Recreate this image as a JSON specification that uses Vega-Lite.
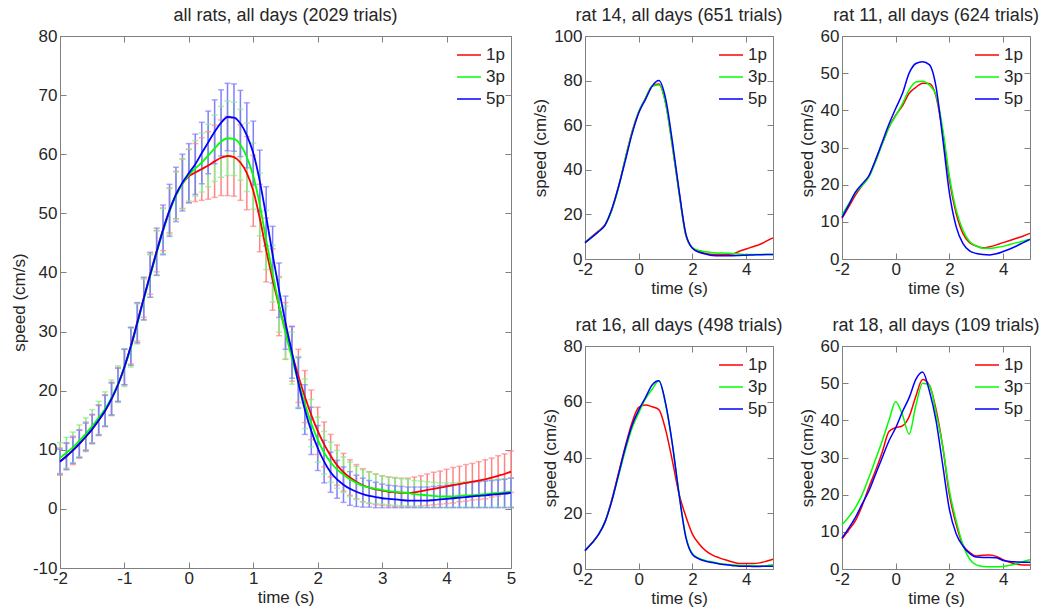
{
"$schema": "https://vega.github.io/schema/vega-lite/v6.json",
"padding": {"left": 9, "top": 6, "right": 0, "bottom": 0},
"background": "white",
"config": {
  "font": "Liberation Sans",
  "view": {"stroke": "#808080", "strokeWidth": 1},
  "axis": {"domain": false, "grid": false, "tickSize": -6, "tickColor": "#808080", "labelFontSize": 17, "labelColor": "#262626", "titleFontSize": 17, "titleFontWeight": "normal", "titleColor": "#262626", "labelPadding": 9, "labelFlush": false, "labelExpr": "replace(datum.label, '\u2212', '-')"},
  "axisX": {"labelPadding": 8.5, "titlePadding": 2.5},
  "axisY": {"titlePadding": 4},
  "title": {"fontSize": 18, "fontWeight": "normal", "color": "#262626", "baseline": "alphabetic", "offset": 2, "anchor": "middle"},
  "legend": {"orient": "none", "padding": 0, "symbolType": "stroke", "symbolSize": 576, "symbolStrokeWidth": 1.5, "labelFontSize": 17, "labelColor": "#262626", "labelOffset": 4, "rowPadding": 1}
},
"datasets": {
"all": [
{"s":"1p","t":-2,"v":8.0,"lo":5.7,"hi":10.3},{"s":"1p","t":-1.9,"v":8.9,"lo":6.6,"hi":11.2},{"s":"1p","t":-1.8,"v":9.9,"lo":7.5,"hi":12.3},{"s":"1p","t":-1.7,"v":11.0,"lo":8.6,"hi":13.4},{"s":"1p","t":-1.6,"v":12.2,"lo":9.7,"hi":14.7},{"s":"1p","t":-1.5,"v":13.5,"lo":11.0,"hi":16.0},{"s":"1p","t":-1.4,"v":15.0,"lo":12.4,"hi":17.6},{"s":"1p","t":-1.3,"v":16.6,"lo":13.9,"hi":19.3},{"s":"1p","t":-1.2,"v":18.6,"lo":15.8,"hi":21.4},{"s":"1p","t":-1.1,"v":21.0,"lo":18.1,"hi":23.9},{"s":"1p","t":-1.0,"v":24.0,"lo":21.0,"hi":27.0},
{"s":"1p","t":-0.9,"v":27.6,"lo":24.5,"hi":30.7},{"s":"1p","t":-0.8,"v":31.6,"lo":28.4,"hi":34.8},{"s":"1p","t":-0.7,"v":35.7,"lo":32.4,"hi":39.0},{"s":"1p","t":-0.6,"v":39.7,"lo":36.3,"hi":43.1},{"s":"1p","t":-0.5,"v":43.6,"lo":40.1,"hi":47.1},{"s":"1p","t":-0.4,"v":47.3,"lo":43.7,"hi":50.9},{"s":"1p","t":-0.3,"v":50.5,"lo":46.7,"hi":54.3},{"s":"1p","t":-0.2,"v":53.1,"lo":49.1,"hi":57.1},{"s":"1p","t":-0.1,"v":55.0,"lo":50.8,"hi":59.2},{"s":"1p","t":0,"v":56.3,"lo":51.8,"hi":60.8},
{"s":"1p","t":0.1,"v":56.9,"lo":52.0,"hi":61.8},{"s":"1p","t":0.2,"v":57.5,"lo":52.2,"hi":62.8},{"s":"1p","t":0.3,"v":58.1,"lo":52.4,"hi":63.8},{"s":"1p","t":0.4,"v":58.8,"lo":52.7,"hi":64.9},{"s":"1p","t":0.5,"v":59.4,"lo":53.0,"hi":65.8},{"s":"1p","t":0.6,"v":59.7,"lo":53.0,"hi":66.4},{"s":"1p","t":0.7,"v":59.5,"lo":52.9,"hi":66.1},{"s":"1p","t":0.8,"v":58.6,"lo":52.2,"hi":65.0},{"s":"1p","t":0.9,"v":56.8,"lo":50.6,"hi":63.0},{"s":"1p","t":1.0,"v":53.8,"lo":47.8,"hi":59.8},
{"s":"1p","t":1.1,"v":49.2,"lo":43.5,"hi":54.9},{"s":"1p","t":1.2,"v":43.8,"lo":38.4,"hi":49.2},{"s":"1p","t":1.3,"v":38.8,"lo":33.6,"hi":44.0},{"s":"1p","t":1.4,"v":34.3,"lo":29.3,"hi":39.3},{"s":"1p","t":1.5,"v":30.1,"lo":25.3,"hi":34.9},{"s":"1p","t":1.6,"v":26.2,"lo":21.6,"hi":30.8},{"s":"1p","t":1.7,"v":22.5,"lo":18.0,"hi":27.0},{"s":"1p","t":1.8,"v":19.0,"lo":14.6,"hi":23.4},{"s":"1p","t":1.9,"v":15.9,"lo":11.7,"hi":20.1},{"s":"1p","t":2.0,"v":13.2,"lo":9.2,"hi":17.2},
{"s":"1p","t":2.1,"v":10.9,"lo":7.1,"hi":14.7},{"s":"1p","t":2.2,"v":9.0,"lo":5.4,"hi":12.6},{"s":"1p","t":2.3,"v":7.4,"lo":4.0,"hi":10.8},{"s":"1p","t":2.4,"v":6.2,"lo":3.0,"hi":9.4},{"s":"1p","t":2.5,"v":5.3,"lo":2.3,"hi":8.3},{"s":"1p","t":2.6,"v":4.6,"lo":1.7,"hi":7.5},{"s":"1p","t":2.7,"v":4.0,"lo":1.2,"hi":6.8},{"s":"1p","t":2.8,"v":3.6,"lo":0.9,"hi":6.3},{"s":"1p","t":2.9,"v":3.3,"lo":0.7,"hi":5.9},{"s":"1p","t":3.0,"v":3.1,"lo":0.6,"hi":5.6},
{"s":"1p","t":3.1,"v":2.9,"lo":0.5,"hi":5.4},{"s":"1p","t":3.2,"v":2.8,"lo":0.4,"hi":5.3},{"s":"1p","t":3.3,"v":2.7,"lo":0.4,"hi":5.2},{"s":"1p","t":3.4,"v":2.7,"lo":0.4,"hi":5.2},{"s":"1p","t":3.5,"v":2.8,"lo":0.4,"hi":5.4},{"s":"1p","t":3.6,"v":3.0,"lo":0.5,"hi":5.6},{"s":"1p","t":3.7,"v":3.2,"lo":0.6,"hi":5.9},{"s":"1p","t":3.8,"v":3.4,"lo":0.7,"hi":6.2},{"s":"1p","t":3.9,"v":3.6,"lo":0.8,"hi":6.4},{"s":"1p","t":4.0,"v":3.8,"lo":0.9,"hi":6.7},
{"s":"1p","t":4.1,"v":4.0,"lo":1.0,"hi":7.0},{"s":"1p","t":4.2,"v":4.2,"lo":1.2,"hi":7.2},{"s":"1p","t":4.3,"v":4.4,"lo":1.3,"hi":7.5},{"s":"1p","t":4.4,"v":4.6,"lo":1.5,"hi":7.7},{"s":"1p","t":4.5,"v":4.8,"lo":1.6,"hi":8.0},{"s":"1p","t":4.6,"v":5.0,"lo":1.7,"hi":8.3},{"s":"1p","t":4.7,"v":5.3,"lo":2.0,"hi":8.6},{"s":"1p","t":4.8,"v":5.6,"lo":2.2,"hi":9.0},{"s":"1p","t":4.9,"v":5.9,"lo":2.5,"hi":9.3},{"s":"1p","t":5.0,"v":6.3,"lo":2.8,"hi":9.8},
{"s":"3p","t":-2,"v":8.6,"lo":6.0,"hi":11.2},{"s":"3p","t":-1.9,"v":9.5,"lo":6.9,"hi":12.1},{"s":"3p","t":-1.8,"v":10.4,"lo":7.8,"hi":13.0},{"s":"3p","t":-1.7,"v":11.5,"lo":8.8,"hi":14.2},{"s":"3p","t":-1.6,"v":12.7,"lo":10.0,"hi":15.4},{"s":"3p","t":-1.5,"v":14.0,"lo":11.2,"hi":16.8},{"s":"3p","t":-1.4,"v":15.4,"lo":12.6,"hi":18.2},{"s":"3p","t":-1.3,"v":16.9,"lo":14.0,"hi":19.8},{"s":"3p","t":-1.2,"v":18.8,"lo":15.8,"hi":21.8},{"s":"3p","t":-1.1,"v":21.1,"lo":18.0,"hi":24.2},{"s":"3p","t":-1.0,"v":23.9,"lo":20.7,"hi":27.1},
{"s":"3p","t":-0.9,"v":27.3,"lo":24.0,"hi":30.6},{"s":"3p","t":-0.8,"v":31.3,"lo":27.9,"hi":34.7},{"s":"3p","t":-0.7,"v":35.4,"lo":31.9,"hi":38.9},{"s":"3p","t":-0.6,"v":39.4,"lo":35.8,"hi":43.0},{"s":"3p","t":-0.5,"v":43.3,"lo":39.6,"hi":47.0},{"s":"3p","t":-0.4,"v":47.0,"lo":43.2,"hi":50.8},{"s":"3p","t":-0.3,"v":50.3,"lo":46.4,"hi":54.2},{"s":"3p","t":-0.2,"v":53.0,"lo":49.0,"hi":57.0},{"s":"3p","t":-0.1,"v":55.0,"lo":50.8,"hi":59.2},{"s":"3p","t":0,"v":56.5,"lo":52.1,"hi":60.9},
{"s":"3p","t":0.1,"v":57.6,"lo":52.9,"hi":62.3},{"s":"3p","t":0.2,"v":58.6,"lo":53.6,"hi":63.6},{"s":"3p","t":0.3,"v":59.8,"lo":54.5,"hi":65.1},{"s":"3p","t":0.4,"v":61.0,"lo":55.4,"hi":66.6},{"s":"3p","t":0.5,"v":62.1,"lo":56.1,"hi":68.1},{"s":"3p","t":0.6,"v":62.7,"lo":56.4,"hi":69.0},{"s":"3p","t":0.7,"v":62.6,"lo":56.4,"hi":68.8},{"s":"3p","t":0.8,"v":61.6,"lo":55.6,"hi":67.6},{"s":"3p","t":0.9,"v":59.5,"lo":53.7,"hi":65.3},{"s":"3p","t":1.0,"v":56.3,"lo":50.7,"hi":61.9},
{"s":"3p","t":1.1,"v":51.5,"lo":46.2,"hi":56.8},{"s":"3p","t":1.2,"v":45.5,"lo":40.5,"hi":50.5},{"s":"3p","t":1.3,"v":39.8,"lo":35.0,"hi":44.6},{"s":"3p","t":1.4,"v":34.5,"lo":29.9,"hi":39.1},{"s":"3p","t":1.5,"v":29.8,"lo":25.3,"hi":34.3},{"s":"3p","t":1.6,"v":25.5,"lo":21.1,"hi":29.9},{"s":"3p","t":1.7,"v":21.5,"lo":17.2,"hi":25.8},{"s":"3p","t":1.8,"v":17.8,"lo":13.6,"hi":22.0},{"s":"3p","t":1.9,"v":14.5,"lo":10.5,"hi":18.5},{"s":"3p","t":2.0,"v":11.7,"lo":7.9,"hi":15.5},
{"s":"3p","t":2.1,"v":9.5,"lo":5.9,"hi":13.1},{"s":"3p","t":2.2,"v":7.9,"lo":4.5,"hi":11.3},{"s":"3p","t":2.3,"v":6.7,"lo":3.5,"hi":9.9},{"s":"3p","t":2.4,"v":5.8,"lo":2.8,"hi":8.8},{"s":"3p","t":2.5,"v":5.0,"lo":2.1,"hi":7.9},{"s":"3p","t":2.6,"v":4.4,"lo":1.6,"hi":7.2},{"s":"3p","t":2.7,"v":3.9,"lo":1.2,"hi":6.6},{"s":"3p","t":2.8,"v":3.6,"lo":1.0,"hi":6.2},{"s":"3p","t":2.9,"v":3.4,"lo":0.9,"hi":5.9},{"s":"3p","t":3.0,"v":3.2,"lo":0.8,"hi":5.6},
{"s":"3p","t":3.1,"v":3.0,"lo":0.7,"hi":5.4},{"s":"3p","t":3.2,"v":2.9,"lo":0.6,"hi":5.2},{"s":"3p","t":3.3,"v":2.8,"lo":0.5,"hi":5.1},{"s":"3p","t":3.4,"v":2.7,"lo":0.5,"hi":5.0},{"s":"3p","t":3.5,"v":2.5,"lo":0.4,"hi":4.8},{"s":"3p","t":3.6,"v":2.4,"lo":0.4,"hi":4.7},{"s":"3p","t":3.7,"v":2.3,"lo":0.3,"hi":4.6},{"s":"3p","t":3.8,"v":2.2,"lo":0.3,"hi":4.5},{"s":"3p","t":3.9,"v":2.1,"lo":0.3,"hi":4.4},{"s":"3p","t":4.0,"v":2.1,"lo":0.3,"hi":4.4},
{"s":"3p","t":4.1,"v":2.1,"lo":0.3,"hi":4.4},{"s":"3p","t":4.2,"v":2.2,"lo":0.3,"hi":4.5},{"s":"3p","t":4.3,"v":2.3,"lo":0.3,"hi":4.6},{"s":"3p","t":4.4,"v":2.3,"lo":0.3,"hi":4.6},{"s":"3p","t":4.5,"v":2.4,"lo":0.3,"hi":4.7},{"s":"3p","t":4.6,"v":2.5,"lo":0.3,"hi":4.8},{"s":"3p","t":4.7,"v":2.6,"lo":0.3,"hi":4.9},{"s":"3p","t":4.8,"v":2.7,"lo":0.3,"hi":5.0},{"s":"3p","t":4.9,"v":2.8,"lo":0.3,"hi":5.1},{"s":"3p","t":5.0,"v":2.9,"lo":0.3,"hi":5.2},
{"s":"5p","t":-2,"v":8.0,"lo":5.9,"hi":10.1},{"s":"5p","t":-1.9,"v":8.9,"lo":6.7,"hi":11.1},{"s":"5p","t":-1.8,"v":9.9,"lo":7.7,"hi":12.1},{"s":"5p","t":-1.7,"v":11.0,"lo":8.7,"hi":13.3},{"s":"5p","t":-1.6,"v":12.2,"lo":9.9,"hi":14.5},{"s":"5p","t":-1.5,"v":13.5,"lo":11.1,"hi":15.9},{"s":"5p","t":-1.4,"v":15.0,"lo":12.5,"hi":17.5},{"s":"5p","t":-1.3,"v":16.6,"lo":14.0,"hi":19.2},{"s":"5p","t":-1.2,"v":18.6,"lo":15.9,"hi":21.3},{"s":"5p","t":-1.1,"v":21.0,"lo":18.2,"hi":23.8},{"s":"5p","t":-1.0,"v":24.0,"lo":21.0,"hi":27.0},
{"s":"5p","t":-0.9,"v":27.5,"lo":24.3,"hi":30.7},{"s":"5p","t":-0.8,"v":31.5,"lo":28.1,"hi":34.9},{"s":"5p","t":-0.7,"v":35.6,"lo":32.0,"hi":39.2},{"s":"5p","t":-0.6,"v":39.6,"lo":35.8,"hi":43.4},{"s":"5p","t":-0.5,"v":43.5,"lo":39.5,"hi":47.5},{"s":"5p","t":-0.4,"v":47.2,"lo":43.0,"hi":51.4},{"s":"5p","t":-0.3,"v":50.5,"lo":46.1,"hi":54.9},{"s":"5p","t":-0.2,"v":53.2,"lo":48.6,"hi":57.8},{"s":"5p","t":-0.1,"v":55.2,"lo":50.4,"hi":60.0},{"s":"5p","t":0,"v":56.8,"lo":51.8,"hi":61.8},
{"s":"5p","t":0.1,"v":58.3,"lo":53.2,"hi":63.4},{"s":"5p","t":0.2,"v":60.2,"lo":55.0,"hi":65.4},{"s":"5p","t":0.3,"v":62.0,"lo":56.7,"hi":67.3},{"s":"5p","t":0.4,"v":63.8,"lo":58.4,"hi":69.2},{"s":"5p","t":0.5,"v":65.3,"lo":59.7,"hi":70.9},{"s":"5p","t":0.6,"v":66.3,"lo":60.6,"hi":72.0},{"s":"5p","t":0.7,"v":66.2,"lo":60.5,"hi":71.9},{"s":"5p","t":0.8,"v":65.2,"lo":59.6,"hi":70.8},{"s":"5p","t":0.9,"v":63.2,"lo":57.7,"hi":68.7},{"s":"5p","t":1.0,"v":60.2,"lo":54.8,"hi":65.6},
{"s":"5p","t":1.1,"v":55.5,"lo":50.3,"hi":60.7},{"s":"5p","t":1.2,"v":49.5,"lo":44.5,"hi":54.5},{"s":"5p","t":1.3,"v":43.0,"lo":38.2,"hi":47.8},{"s":"5p","t":1.4,"v":37.0,"lo":32.4,"hi":41.6},{"s":"5p","t":1.5,"v":31.5,"lo":27.0,"hi":36.0},{"s":"5p","t":1.6,"v":26.5,"lo":22.1,"hi":30.9},{"s":"5p","t":1.7,"v":21.3,"lo":17.0,"hi":25.6},{"s":"5p","t":1.8,"v":16.8,"lo":12.6,"hi":21.0},{"s":"5p","t":1.9,"v":13.2,"lo":9.2,"hi":17.2},{"s":"5p","t":2.0,"v":10.3,"lo":6.5,"hi":14.1},
{"s":"5p","t":2.1,"v":8.0,"lo":4.4,"hi":11.6},{"s":"5p","t":2.2,"v":6.2,"lo":2.8,"hi":9.6},{"s":"5p","t":2.3,"v":5.0,"lo":1.8,"hi":8.2},{"s":"5p","t":2.4,"v":4.1,"lo":1.1,"hi":7.1},{"s":"5p","t":2.5,"v":3.4,"lo":0.6,"hi":6.3},{"s":"5p","t":2.6,"v":2.9,"lo":0.4,"hi":5.7},{"s":"5p","t":2.7,"v":2.5,"lo":0.3,"hi":5.2},{"s":"5p","t":2.8,"v":2.2,"lo":0.3,"hi":4.8},{"s":"5p","t":2.9,"v":2.0,"lo":0.2,"hi":4.5},{"s":"5p","t":3.0,"v":1.8,"lo":0.2,"hi":4.2},
{"s":"5p","t":3.1,"v":1.7,"lo":0.2,"hi":4.0},{"s":"5p","t":3.2,"v":1.6,"lo":0.2,"hi":3.9},{"s":"5p","t":3.3,"v":1.5,"lo":0.2,"hi":3.8},{"s":"5p","t":3.4,"v":1.4,"lo":0.2,"hi":3.7},{"s":"5p","t":3.5,"v":1.4,"lo":0.2,"hi":3.7},{"s":"5p","t":3.6,"v":1.4,"lo":0.2,"hi":3.7},{"s":"5p","t":3.7,"v":1.4,"lo":0.2,"hi":3.7},{"s":"5p","t":3.8,"v":1.5,"lo":0.2,"hi":3.8},{"s":"5p","t":3.9,"v":1.6,"lo":0.2,"hi":3.9},{"s":"5p","t":4.0,"v":1.7,"lo":0.2,"hi":4.0},
{"s":"5p","t":4.1,"v":1.8,"lo":0.2,"hi":4.1},{"s":"5p","t":4.2,"v":1.9,"lo":0.2,"hi":4.2},{"s":"5p","t":4.3,"v":2.0,"lo":0.2,"hi":4.4},{"s":"5p","t":4.4,"v":2.1,"lo":0.2,"hi":4.5},{"s":"5p","t":4.5,"v":2.2,"lo":0.2,"hi":4.6},{"s":"5p","t":4.6,"v":2.3,"lo":0.2,"hi":4.7},{"s":"5p","t":4.7,"v":2.4,"lo":0.2,"hi":4.8},{"s":"5p","t":4.8,"v":2.5,"lo":0.2,"hi":4.9},{"s":"5p","t":4.9,"v":2.6,"lo":0.2,"hi":5.0},{"s":"5p","t":5.0,"v":2.7,"lo":0.2,"hi":5.2}
],
"rats": [
{"p":"r14","t":-2,"1p":7.5,"3p":7.3,"5p":7.2},{"p":"r14","t":-1.75,"1p":10,"3p":9.8,"5p":9.7},{"p":"r14","t":-1.5,"1p":12.5,"3p":12.2,"5p":12.2},{"p":"r14","t":-1.25,"1p":15.5,"3p":15.3,"5p":15.2},{"p":"r14","t":-1,"1p":22,"3p":22,"5p":22.5},{"p":"r14","t":-0.75,"1p":32.5,"3p":32,"5p":32.5},{"p":"r14","t":-0.5,"1p":45,"3p":45,"5p":44},{"p":"r14","t":-0.25,"1p":57,"3p":56.5,"5p":56},{"p":"r14","t":0,"1p":66,"3p":66,"5p":65.5},{"p":"r14","t":0.25,"1p":72,"3p":72,"5p":71.5},{"p":"r14","t":0.5,"1p":77.5,"3p":77.5,"5p":77.5},{"p":"r14","t":0.75,"1p":78.5,"3p":78,"5p":80},{"p":"r14","t":1,"1p":70,"3p":70,"5p":72},{"p":"r14","t":1.25,"1p":51,"3p":51,"5p":53},{"p":"r14","t":1.5,"1p":30,"3p":30,"5p":31},{"p":"r14","t":1.75,"1p":11,"3p":11,"5p":11.5},{"p":"r14","t":2,"1p":5,"3p":5,"5p":4.8},{"p":"r14","t":2.25,"1p":3.5,"3p":3.8,"5p":3},{"p":"r14","t":2.5,"1p":2.5,"3p":3.2,"5p":2.2},{"p":"r14","t":2.75,"1p":2,"3p":2.8,"5p":1.6},{"p":"r14","t":3,"1p":2,"3p":2.7,"5p":1.5},{"p":"r14","t":3.25,"1p":2,"3p":2.6,"5p":1.5},{"p":"r14","t":3.5,"1p":2.2,"3p":2.5,"5p":1.5},{"p":"r14","t":3.75,"1p":3.5,"3p":2.2,"5p":1.6},{"p":"r14","t":4,"1p":4.5,"3p":2,"5p":1.7},{"p":"r14","t":4.25,"1p":5.5,"3p":2,"5p":1.8},{"p":"r14","t":4.5,"1p":6.5,"3p":2,"5p":1.9},{"p":"r14","t":4.75,"1p":8,"3p":2,"5p":2},{"p":"r14","t":5,"1p":9.5,"3p":2,"5p":2},
{"p":"r11","t":-2,"1p":10.9,"3p":11.8,"5p":11.2},{"p":"r11","t":-1.75,"1p":14,"3p":14.8,"5p":14.5},{"p":"r11","t":-1.5,"1p":17.2,"3p":17.8,"5p":18},{"p":"r11","t":-1.25,"1p":19.8,"3p":19.8,"5p":20.2},{"p":"r11","t":-1,"1p":22.2,"3p":22,"5p":22.4},{"p":"r11","t":-0.75,"1p":26.5,"3p":26.2,"5p":26.7},{"p":"r11","t":-0.5,"1p":31.1,"3p":31,"5p":31.5},{"p":"r11","t":-0.25,"1p":35.5,"3p":35.5,"5p":36.3},{"p":"r11","t":0,"1p":38.7,"3p":38.5,"5p":40.5},{"p":"r11","t":0.25,"1p":41.2,"3p":41.8,"5p":44.5},{"p":"r11","t":0.5,"1p":44.6,"3p":45.5,"5p":50},{"p":"r11","t":0.75,"1p":46.2,"3p":47.6,"5p":52.6},{"p":"r11","t":1,"1p":47.3,"3p":47.8,"5p":53.1},{"p":"r11","t":1.25,"1p":47.2,"3p":46.8,"5p":52.3},{"p":"r11","t":1.5,"1p":43.8,"3p":44.1,"5p":46.4},{"p":"r11","t":1.75,"1p":34,"3p":35,"5p":32.5},{"p":"r11","t":2,"1p":21.3,"3p":22.2,"5p":17.7},{"p":"r11","t":2.25,"1p":12.3,"3p":13.2,"5p":8.7},{"p":"r11","t":2.5,"1p":6.9,"3p":7.8,"5p":4.2},{"p":"r11","t":2.75,"1p":4.4,"3p":4.7,"5p":2.2},{"p":"r11","t":3,"1p":3.5,"3p":3.5,"5p":1.5},{"p":"r11","t":3.25,"1p":3,"3p":2.9,"5p":1.2},{"p":"r11","t":3.5,"1p":3.3,"3p":2.9,"5p":1.1},{"p":"r11","t":3.75,"1p":3.8,"3p":3.1,"5p":1.4},{"p":"r11","t":4,"1p":4.4,"3p":3.4,"5p":2},{"p":"r11","t":4.25,"1p":5,"3p":3.9,"5p":2.7},{"p":"r11","t":4.5,"1p":5.6,"3p":4.4,"5p":3.5},{"p":"r11","t":4.75,"1p":6.2,"3p":4.8,"5p":4.4},{"p":"r11","t":5,"1p":6.9,"3p":5.3,"5p":5.3},
{"p":"r16","t":-2,"1p":6.6,"3p":6.6,"5p":6.6},{"p":"r16","t":-1.75,"1p":9.2,"3p":9.2,"5p":9.2},{"p":"r16","t":-1.5,"1p":12.3,"3p":12.3,"5p":12.3},{"p":"r16","t":-1.25,"1p":17,"3p":17,"5p":17},{"p":"r16","t":-1,"1p":25,"3p":24.5,"5p":24.5},{"p":"r16","t":-0.75,"1p":34.5,"3p":33.5,"5p":34},{"p":"r16","t":-0.5,"1p":44,"3p":42.5,"5p":43.5},{"p":"r16","t":-0.25,"1p":52.5,"3p":50.5,"5p":51.5},{"p":"r16","t":0,"1p":58,"3p":56,"5p":57},{"p":"r16","t":0.25,"1p":58.8,"3p":61,"5p":61.5},{"p":"r16","t":0.5,"1p":58.2,"3p":64.5,"5p":66},{"p":"r16","t":0.75,"1p":57.2,"3p":67.5,"5p":67.5},{"p":"r16","t":1,"1p":50,"3p":59,"5p":59.5},{"p":"r16","t":1.25,"1p":39,"3p":45,"5p":45},{"p":"r16","t":1.5,"1p":27,"3p":27,"5p":27},{"p":"r16","t":1.75,"1p":19,"3p":12,"5p":11.5},{"p":"r16","t":2,"1p":12.5,"3p":5.5,"5p":5.2},{"p":"r16","t":2.25,"1p":9,"3p":3.8,"5p":3.6},{"p":"r16","t":2.5,"1p":6.5,"3p":3,"5p":2.8},{"p":"r16","t":2.75,"1p":5,"3p":2.5,"5p":2.3},{"p":"r16","t":3,"1p":4,"3p":2,"5p":1.8},{"p":"r16","t":3.25,"1p":3.2,"3p":1.7,"5p":1.5},{"p":"r16","t":3.5,"1p":2.5,"3p":1.5,"5p":1.2},{"p":"r16","t":3.75,"1p":2,"3p":1.3,"5p":1},{"p":"r16","t":4,"1p":2,"3p":1.2,"5p":1},{"p":"r16","t":4.25,"1p":2,"3p":1.2,"5p":0.9},{"p":"r16","t":4.5,"1p":2.2,"3p":1.1,"5p":0.9},{"p":"r16","t":4.75,"1p":2.8,"3p":1.2,"5p":1},{"p":"r16","t":5,"1p":3.5,"3p":1.5,"5p":1},
{"p":"r18","t":-2,"1p":8.1,"3p":11.9,"5p":8.3},{"p":"r18","t":-1.75,"1p":10.5,"3p":14,"5p":11},{"p":"r18","t":-1.5,"1p":13,"3p":16.5,"5p":13.9},{"p":"r18","t":-1.25,"1p":17,"3p":20,"5p":17.5},{"p":"r18","t":-1,"1p":22,"3p":24.6,"5p":21},{"p":"r18","t":-0.75,"1p":26.5,"3p":29.5,"5p":25.5},{"p":"r18","t":-0.5,"1p":31.5,"3p":34.5,"5p":30},{"p":"r18","t":-0.25,"1p":37,"3p":40,"5p":34.5},{"p":"r18","t":0,"1p":38,"3p":45,"5p":38},{"p":"r18","t":0.25,"1p":38.5,"3p":41.5,"5p":42.3},{"p":"r18","t":0.5,"1p":41,"3p":36.3,"5p":46.1},{"p":"r18","t":0.75,"1p":46.5,"3p":44,"5p":51},{"p":"r18","t":1,"1p":51,"3p":50,"5p":53},{"p":"r18","t":1.25,"1p":49.5,"3p":49.5,"5p":48},{"p":"r18","t":1.5,"1p":43,"3p":42,"5p":40},{"p":"r18","t":1.75,"1p":33,"3p":33,"5p":28},{"p":"r18","t":2,"1p":20,"3p":21,"5p":16},{"p":"r18","t":2.25,"1p":12,"3p":13,"5p":9.5},{"p":"r18","t":2.5,"1p":6.5,"3p":6.5,"5p":6.2},{"p":"r18","t":2.75,"1p":4.5,"3p":2.7,"5p":4.2},{"p":"r18","t":3,"1p":3.5,"3p":1.1,"5p":3.2},{"p":"r18","t":3.25,"1p":3.7,"3p":0.7,"5p":3.1},{"p":"r18","t":3.5,"1p":3.8,"3p":0.6,"5p":3.1},{"p":"r18","t":3.75,"1p":3.4,"3p":0.6,"5p":3},{"p":"r18","t":4,"1p":2.5,"3p":0.7,"5p":2.3},{"p":"r18","t":4.25,"1p":1.8,"3p":1,"5p":2},{"p":"r18","t":4.5,"1p":1.3,"3p":1.4,"5p":1.9},{"p":"r18","t":4.75,"1p":1.1,"3p":2,"5p":1.8},{"p":"r18","t":5,"1p":1.1,"3p":2.5,"5p":1.8}
]
},
"spacing": 14,
"bounds": "full",
"resolve": {"scale": {"color": "independent"}, "legend": {"color": "independent"}},
"hconcat": [
{
  "width": 451, "height": 532,
  "title": "all rats, all days (2029 trials)",
  "data": {"name": "all"},
  "layer": [
    {"mark": {"type": "rule", "strokeWidth": 1.5},
     "encoding": {
       "x": {"field": "t", "type": "quantitative", "scale": {"domain": [-2, 5], "nice": false, "zero": false}, "axis": {"orient": "bottom", "values": [-2,-1,0,1,2,3,4,5], "title": "time (s)"}},
       "y": {"field": "lo", "type": "quantitative", "scale": {"domain": [-10, 80], "nice": false, "zero": false}, "axis": {"orient": "left", "values": [-10,0,10,20,30,40,50,60,70,80], "title": "speed (cm/s)"}},
       "y2": {"field": "hi"},
       "color": {"field": "s", "type": "nominal", "scale": {"domain": ["1p","3p","5p"], "range": ["#ff8484","#84ee84","#8080ff"]}, "legend": null}
     }},
    {"mark": {"type": "tick", "orient": "horizontal", "size": 6, "thickness": 1.5},
     "encoding": {
       "x": {"field": "t", "type": "quantitative", "axis": null},
       "y": {"field": "lo", "type": "quantitative", "axis": null},
       "color": {"field": "s", "type": "nominal", "scale": {"domain": ["1p","3p","5p"], "range": ["#ff8484","#84ee84","#8080ff"]}, "legend": null}
     }},
    {"mark": {"type": "tick", "orient": "horizontal", "size": 6, "thickness": 1.5},
     "encoding": {
       "x": {"field": "t", "type": "quantitative", "axis": null},
       "y": {"field": "hi", "type": "quantitative", "axis": null},
       "color": {"field": "s", "type": "nominal", "scale": {"domain": ["1p","3p","5p"], "range": ["#ff8484","#84ee84","#8080ff"]}, "legend": null}
     }},
    {"mark": {"type": "line", "strokeWidth": 1.8, "interpolate": "monotone"},
     "encoding": {
       "x": {"field": "t", "type": "quantitative", "axis": {"orient": "top", "labels": false, "title": null, "values": [-2,-1,0,1,2,3,4,5]}},
       "y": {"field": "v", "type": "quantitative", "axis": {"orient": "right", "labels": false, "title": null, "values": [-10,0,10,20,30,40,50,60,70,80]}},
       "color": {"field": "s", "type": "nominal", "scale": {"domain": ["1p","3p","5p"], "range": ["#ff0000","#00ff00","#0000ff"]}, "legend": {"title": null, "legendX": 396, "legendY": 6}}
     }}
  ],
  "resolve": {"axis": {"x": "independent", "y": "independent"}, "scale": {"color": "independent"}}
},
{
  "spacing": 19,
  "bounds": "full",
  "resolve": {"scale": {"color": "independent"}, "legend": {"color": "independent"}},
  "vconcat": [
    {
      "spacing": 69, "bounds": "flush",
      "resolve": {"scale": {"color": "independent"}, "legend": {"color": "independent"}},
      "hconcat": [
        {
          "width": 188, "height": 223,
          "title": "rat 14, all days (651 trials)",
          "data": {"name": "rats"},
          "transform": [{"filter": "datum.p == 'r14'"}, {"fold": ["1p","3p","5p"], "as": ["s","v"]}],
          "layer": [
            {"mark": {"type": "line", "strokeWidth": 1.5, "interpolate": "monotone"},
             "encoding": {
               "x": {"field": "t", "type": "quantitative", "scale": {"domain": [-2, 5], "nice": false, "zero": false}, "axis": {"orient": "bottom", "values": [-2,0,2,4], "title": "time (s)"}},
               "y": {"field": "v", "type": "quantitative", "scale": {"domain": [0, 100], "nice": false}, "axis": {"orient": "left", "values": [0,20,40,60,80,100], "title": "speed (cm/s)"}},
               "color": {"field": "s", "type": "nominal", "scale": {"domain": ["1p","3p","5p"], "range": ["#ff0000","#00ff00","#0000ff"]}, "legend": {"title": null, "legendX": 133, "legendY": 6}}
             }},
            {"mark": {"type": "point", "opacity": 0},
             "encoding": {
               "x": {"field": "t", "type": "quantitative", "axis": {"orient": "top", "labels": false, "title": null, "values": [-2,0,2,4]}},
               "y": {"field": "v", "type": "quantitative", "axis": {"orient": "right", "labels": false, "title": null, "values": [0,20,40,60,80,100]}}
             }}
          ],
          "resolve": {"axis": {"x": "independent", "y": "independent"}}
        },
        {
          "width": 188, "height": 223,
          "title": "rat 11, all days (624 trials)",
          "data": {"name": "rats"},
          "transform": [{"filter": "datum.p == 'r11'"}, {"fold": ["1p","3p","5p"], "as": ["s","v"]}],
          "layer": [
            {"mark": {"type": "line", "strokeWidth": 1.5, "interpolate": "monotone"},
             "encoding": {
               "x": {"field": "t", "type": "quantitative", "scale": {"domain": [-2, 5], "nice": false, "zero": false}, "axis": {"orient": "bottom", "values": [-2,0,2,4], "title": "time (s)"}},
               "y": {"field": "v", "type": "quantitative", "scale": {"domain": [0, 60], "nice": false}, "axis": {"orient": "left", "values": [0,10,20,30,40,50,60], "title": "speed (cm/s)"}},
               "color": {"field": "s", "type": "nominal", "scale": {"domain": ["1p","3p","5p"], "range": ["#ff0000","#00ff00","#0000ff"]}, "legend": {"title": null, "legendX": 132, "legendY": 6}}
             }},
            {"mark": {"type": "point", "opacity": 0},
             "encoding": {
               "x": {"field": "t", "type": "quantitative", "axis": {"orient": "top", "labels": false, "title": null, "values": [-2,0,2,4]}},
               "y": {"field": "v", "type": "quantitative", "axis": {"orient": "right", "labels": false, "title": null, "values": [0,10,20,30,40,50,60]}}
             }}
          ],
          "resolve": {"axis": {"x": "independent", "y": "independent"}}
        }
      ]
    },
    {
      "spacing": 69, "bounds": "flush",
      "resolve": {"scale": {"color": "independent"}, "legend": {"color": "independent"}},
      "hconcat": [
        {
          "width": 188, "height": 223,
          "title": "rat 16, all days (498 trials)",
          "data": {"name": "rats"},
          "transform": [{"filter": "datum.p == 'r16'"}, {"fold": ["1p","3p","5p"], "as": ["s","v"]}],
          "layer": [
            {"mark": {"type": "line", "strokeWidth": 1.5, "interpolate": "monotone"},
             "encoding": {
               "x": {"field": "t", "type": "quantitative", "scale": {"domain": [-2, 5], "nice": false, "zero": false}, "axis": {"orient": "bottom", "values": [-2,0,2,4], "title": "time (s)"}},
               "y": {"field": "v", "type": "quantitative", "scale": {"domain": [0, 80], "nice": false}, "axis": {"orient": "left", "values": [0,20,40,60,80], "title": "speed (cm/s)"}},
               "color": {"field": "s", "type": "nominal", "scale": {"domain": ["1p","3p","5p"], "range": ["#ff0000","#00ff00","#0000ff"]}, "legend": {"title": null, "legendX": 133, "legendY": 6}}
             }},
            {"mark": {"type": "point", "opacity": 0},
             "encoding": {
               "x": {"field": "t", "type": "quantitative", "axis": {"orient": "top", "labels": false, "title": null, "values": [-2,0,2,4]}},
               "y": {"field": "v", "type": "quantitative", "axis": {"orient": "right", "labels": false, "title": null, "values": [0,20,40,60,80]}}
             }}
          ],
          "resolve": {"axis": {"x": "independent", "y": "independent"}}
        },
        {
          "width": 188, "height": 223,
          "title": "rat 18, all days (109 trials)",
          "data": {"name": "rats"},
          "transform": [{"filter": "datum.p == 'r18'"}, {"fold": ["1p","3p","5p"], "as": ["s","v"]}],
          "layer": [
            {"mark": {"type": "line", "strokeWidth": 1.5, "interpolate": "monotone"},
             "encoding": {
               "x": {"field": "t", "type": "quantitative", "scale": {"domain": [-2, 5], "nice": false, "zero": false}, "axis": {"orient": "bottom", "values": [-2,0,2,4], "title": "time (s)"}},
               "y": {"field": "v", "type": "quantitative", "scale": {"domain": [0, 60], "nice": false}, "axis": {"orient": "left", "values": [0,10,20,30,40,50,60], "title": "speed (cm/s)"}},
               "color": {"field": "s", "type": "nominal", "scale": {"domain": ["1p","3p","5p"], "range": ["#ff0000","#00ff00","#0000ff"]}, "legend": {"title": null, "legendX": 132, "legendY": 6}}
             }},
            {"mark": {"type": "point", "opacity": 0},
             "encoding": {
               "x": {"field": "t", "type": "quantitative", "axis": {"orient": "top", "labels": false, "title": null, "values": [-2,0,2,4]}},
               "y": {"field": "v", "type": "quantitative", "axis": {"orient": "right", "labels": false, "title": null, "values": [0,10,20,30,40,50,60]}}
             }}
          ],
          "resolve": {"axis": {"x": "independent", "y": "independent"}}
        }
      ]
    }
  ]
}
]
}
